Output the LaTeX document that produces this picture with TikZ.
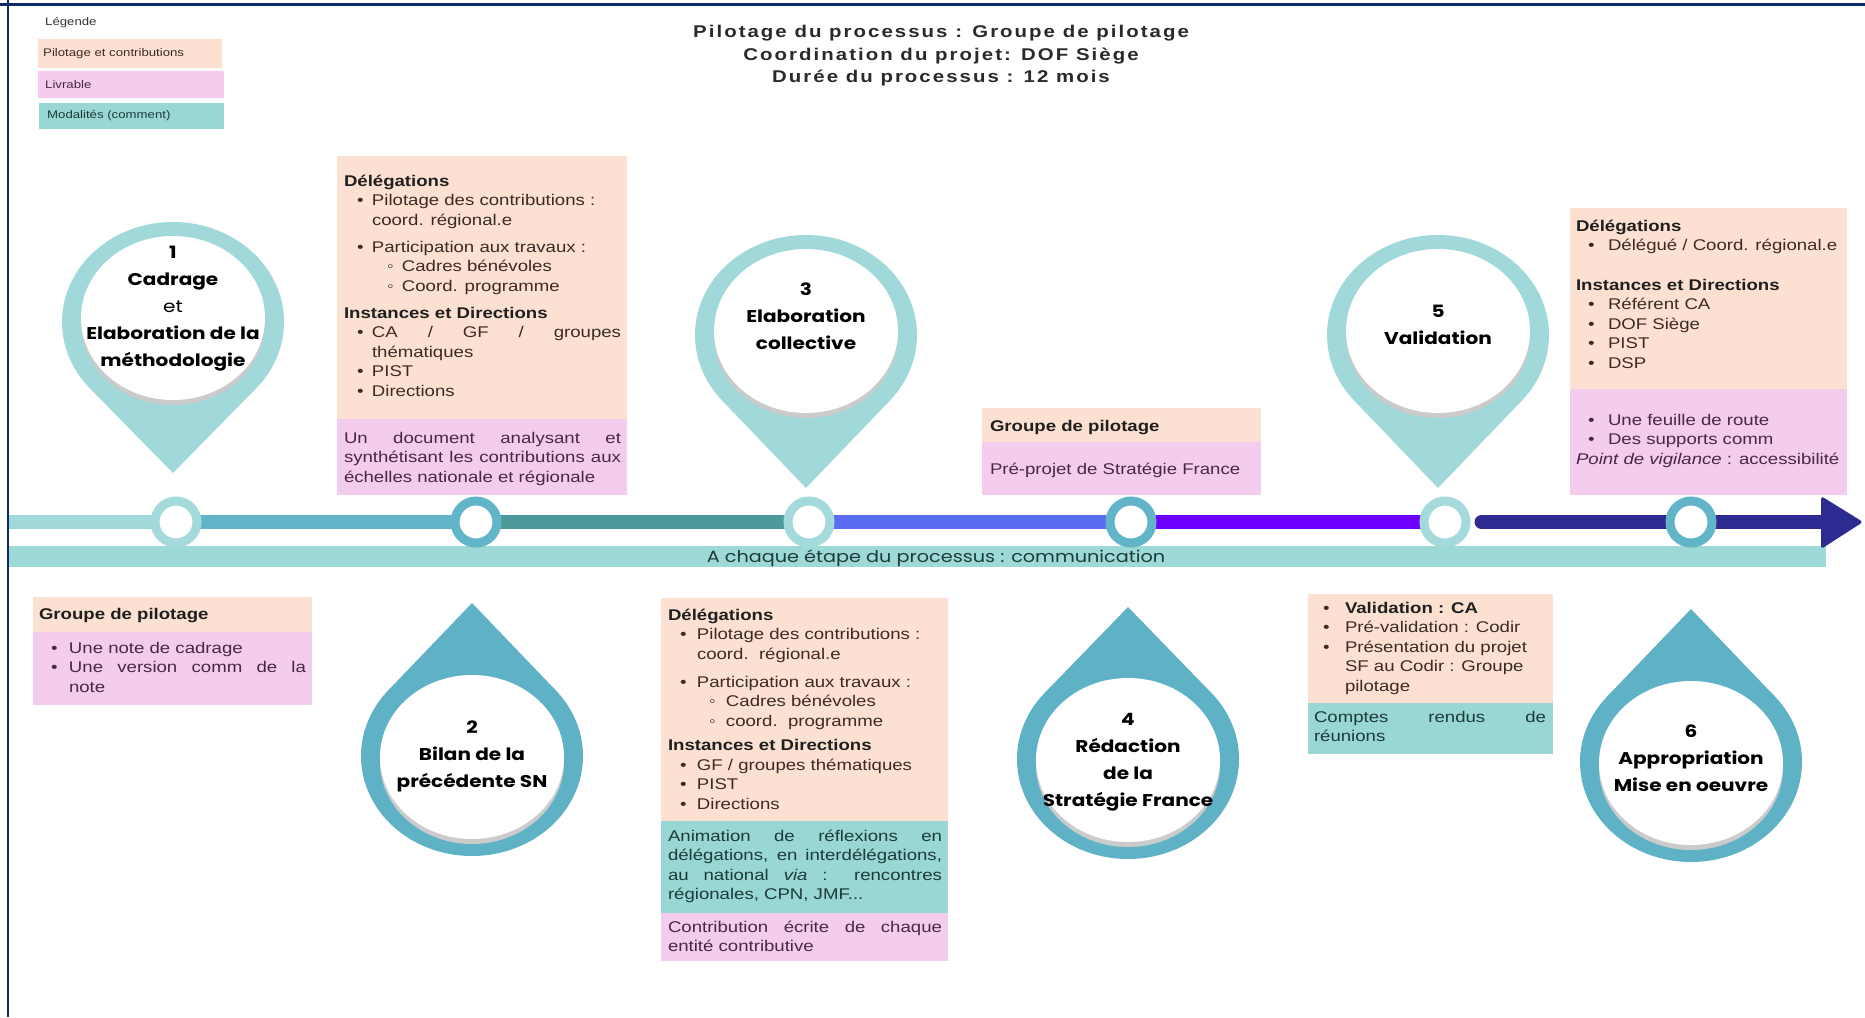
\documentclass[tikz,border=0pt]{standalone}
\usepackage{fontspec}
\setmainfont{Liberation Sans}
\newfontfamily\boxfont[FakeStretch=1.2]{Liberation Sans}
\newfontfamily\pinfont[FakeStretch=1.18]{Poppins}
\newfontfamily\titlefont[FakeStretch=1.2,LetterSpace=12]{Liberation Sans}
\usetikzlibrary{backgrounds}

\definecolor{peach}{HTML}{FCE1D3}
\definecolor{pinkl}{HTML}{F4CDEE}
\definecolor{teall}{HTML}{98D7D4}
\definecolor{commcol}{HTML}{9CD9D7}
\definecolor{pincol}{HTML}{A1D8DA}
\definecolor{dropcol}{HTML}{5FB2C6}
\definecolor{framecol}{HTML}{0B2868}
\definecolor{shadowgrey}{HTML}{CBCBCB}
\definecolor{segA}{HTML}{A1D9DA}
\definecolor{segB}{HTML}{63B3C8}
\definecolor{segC}{HTML}{4E9A9A}
\definecolor{segD}{HTML}{5A6CF2}
\definecolor{segE}{HTML}{6E00FF}
\definecolor{segF}{HTML}{2D2A92}
\definecolor{ringL}{HTML}{A4DADB}
\definecolor{ringM}{HTML}{62B4C8}
\definecolor{txtpeach}{HTML}{3A2B25}
\definecolor{txtpink}{HTML}{4A2746}
\definecolor{txtteal}{HTML}{1E3A3A}
\definecolor{titlecol}{HTML}{2A2A2A}

\newcommand\bitem[2]{\hspace*{#1pt}\makebox[\dimexpr#2pt-#1pt\relax][l]{•}}
\newcommand\bsub[2]{\hspace*{#1pt}\makebox[\dimexpr#2pt-#1pt\relax][l]{◦}}
\newcommand\bind[1]{\hspace*{#1pt}}
\newcommand\jline[2]{\makebox[#1pt][s]{#2}}
\newcommand\hd[1]{{\bfseries\color{black!88}#1}}

\newcommand\mypin[5]{%
  \pgfmathsetmacro\pinD{(#3-#2)/100}%
  \pgfmathsetmacro\pindy{100/\pinD}%
  \pgfmathsetmacro\pindx{111*sqrt(1-1/(\pinD*\pinD))}%
  \pgfmathsetmacro\pinw{#2+(#5)}%
  \pgfmathsetmacro\pins{#2+(#5)+5}%
  \fill[#4] (#1,#2) ellipse [x radius=111, y radius=100];
  \fill[#4] (#1,#3) -- (#1-\pindx,#2+\pindy) -- (#1+\pindx,#2+\pindy) -- cycle;
  \fill[shadowgrey] (#1,\pins) ellipse [x radius=92, y radius=82];
  \fill[white] (#1,\pinw) ellipse [x radius=92, y radius=82];
}

\begin{document}
\begin{tikzpicture}[x=1pt,y=-1pt,
  panel/.style={draw=none, fill=#1, anchor=north west, inner sep=0pt, outer sep=0pt},
  body/.style={anchor=north west, inner sep=0pt, outer sep=0pt, align=left, text=#1, font=\boxfont\fontsize{15.5}{19.5}\selectfont},
  legtxt/.style={anchor=west, inner sep=0pt, text=#1, font=\boxfont\fontsize{11}{13}\selectfont},
  pintxt/.style={align=center, inner sep=0pt, text=black, font=\pinfont\bfseries\fontsize{17}{27}\selectfont},
  ring/.style={circle, draw=#1, line width=9pt, fill=white, minimum size=42pt, inner sep=0pt},
  seg/.style={draw=#1, line width=14pt},
]
\useasboundingbox (0,0) rectangle (1865,1017);

% ---------- title ----------
\node[align=center, inner sep=0pt, text=titlecol, font=\titlefont\bfseries\fontsize{17}{22.6}\selectfont] (title) at (941,56)
  {Pilotage du processus : Groupe de pilotage\\Coordination du projet: DOF Siège\\Durée du processus : 12 mois};

% ---------- legend ----------
\node[legtxt=black!80] (legt) at (45,23) {Légende};
\node[panel=peach, minimum width=184pt, minimum height=29pt] (lg1) at (38,39) {};
\node[legtxt=txtpeach] (lg1t) at (43,53.5) {Pilotage et contributions};
\node[panel=pinkl, minimum width=186pt, minimum height=27pt] (lg2) at (38,71) {};
\node[legtxt=txtpink] (lg2t) at (45,84.5) {Livrable};
\node[panel=teall, minimum width=185pt, minimum height=26pt] (lg3) at (39,103) {};
\node[legtxt=txtteal] (lg3t) at (47,116) {Modalités (comment)};

% ---------- pins (top) and drops (bottom) ----------
\mypin{173}{322}{473}{pincol}{-4}
\mypin{806}{335}{488}{pincol}{-4}
\mypin{1438}{335}{488}{pincol}{-4}
\mypin{472}{756}{603}{dropcol}{1}
\mypin{1128}{759}{607}{dropcol}{1}
\mypin{1691}{762}{609}{dropcol}{1}

\node[pintxt] (t1) at (173,309) {1\\Cadrage\\{\mdseries et}\\Elaboration de la\\méthodologie};
\node[pintxt] (t3) at (806,316.5) {3\\Elaboration\\collective};
\node[pintxt] (t5) at (1438,324.5) {5\\Validation};
\node[pintxt] (t2) at (472,756.5) {2\\Bilan de la\\précédente SN};
\node[pintxt] (t4) at (1128,762) {4\\Rédaction\\de la\\Stratégie France};
\node[pintxt] (t6) at (1691,758.5) {6\\Appropriation\\Mise en oeuvre};

% ---------- box A ----------
\node[panel=peach, minimum width=290pt, minimum height=263pt] (aP) at (337,156) {};
\node[panel=pinkl, minimum width=290pt, minimum height=76pt] (aL) at (337,419) {};
\node[body=txtpeach] (aPt) at (344,172.35) {\strut\hd{Délégations}\\
\bitem{13}{28}Pilotage des contributions :\\
\bind{28}coord. régional.e\\[7.5pt]
\bitem{13}{28}Participation aux travaux :\\
\bsub{43}{58}Cadres bénévoles\\
\bsub{43}{58}Coord. programme\\[7.5pt]
\hd{Instances et Directions}\\
\bitem{13}{28}\jline{249}{CA / GF / groupes}\\
\bind{28}thématiques\\
\bitem{13}{28}PIST\\
\bitem{13}{28}Directions};
\node[body=txtpink] (aLt) at (344,429.35) {\strut\jline{277}{Un document analysant et}\\
\jline{277}{synthétisant les contributions aux}\\
échelles nationale et régionale};

% ---------- box B ----------
\node[panel=peach, minimum width=279pt, minimum height=34pt] (bP) at (982,408) {};
\node[panel=pinkl, minimum width=279pt, minimum height=53pt] (bL) at (982,442) {};
\node[body=txtpeach] (bPt) at (990,417.35) {\strut\hd{Groupe de pilotage}};
\node[body=txtpink] (bLt) at (990,460.35) {\strut Pré-projet de Stratégie France};

% ---------- box C ----------
\node[panel=peach, minimum width=277pt, minimum height=181pt] (cP) at (1570,208) {};
\node[panel=pinkl, minimum width=277pt, minimum height=106pt] (cL) at (1570,389) {};
\node[body=txtpeach] (cPt) at (1576,217.35) {\strut\hd{Délégations}\\
\bitem{12}{32}Délégué / Coord. régional.e\\[20pt]
\hd{Instances et Directions}\\
\bitem{12}{32}Référent CA\\
\bitem{12}{32}DOF Siège\\
\bitem{12}{32}PIST\\
\bitem{12}{32}DSP};
\node[body=txtpink] (cLt) at (1576,411.35) {\strut\bitem{12}{32}Une feuille de route\\
\bitem{12}{32}Des supports comm\\
\textit{Point de vigilance} : accessibilité};

% ---------- box D ----------
\node[panel=peach, minimum width=279pt, minimum height=35pt] (dP) at (33,597) {};
\node[panel=pinkl, minimum width=279pt, minimum height=73pt] (dL) at (33,632) {};
\node[body=txtpeach] (dPt) at (39,605.35) {\strut\hd{Groupe de pilotage}};
\node[body=txtpink] (dLt) at (39,639.35) {\strut\bitem{12}{30}Une note de cadrage\\
\bitem{12}{30}\jline{237}{Une version comm de la}\\
\bind{30}note};

% ---------- box E ----------
\node[panel=peach, minimum width=287pt, minimum height=223pt] (eP) at (661,598) {};
\node[panel=teall, minimum width=287pt, minimum height=92pt] (eM) at (661,821) {};
\node[panel=pinkl, minimum width=287pt, minimum height=48pt] (eL) at (661,913) {};
\node[body=txtpeach] (ePt) at (668,606.35) {\strut\hd{Délégations}\\
\bitem{12}{29}Pilotage des contributions :\\
\bind{29}coord.\ \ régional.e\\[8.5pt]
\bitem{12}{29}Participation aux travaux :\\
\bsub{41}{58}Cadres bénévoles\\
\bsub{41}{58}coord.\ \ programme\\[5pt]
\hd{Instances et Directions}\\
\bitem{12}{29}GF / groupes thématiques\\
\bitem{12}{29}PIST\\
\bitem{12}{29}Directions};
\node[body=txtteal] (eMt) at (668,827.35) {\strut\jline{274}{Animation de réflexions en}\\
\jline{274}{délégations, en interdélégations,}\\
\jline{274}{au national \textit{via} : rencontres}\\
régionales, CPN, JMF...};
\node[body=txtpink] (eLt) at (668,918.35) {\strut\jline{274}{Contribution écrite de chaque}\\
entité contributive};

% ---------- box F ----------
\node[panel=peach, minimum width=245pt, minimum height=109pt] (fP) at (1308,594) {};
\node[panel=teall, minimum width=245pt, minimum height=51pt] (fM) at (1308,703) {};
\node[body=txtpeach] (fPt) at (1314,599.35) {\strut\bitem{9}{31}\hd{Validation : CA}\\
\bitem{9}{31}Pré-validation : Codir\\
\bitem{9}{31}Présentation du projet\\
\bind{31}SF au Codir : Groupe\\
\bind{31}pilotage};
\node[body=txtteal] (fMt) at (1314,708.35) {\strut\jline{232}{Comptes rendus de}\\
réunions};

% ---------- communication bar ----------
\node[panel=commcol, minimum width=1817pt, minimum height=21pt] (comm) at (9,546) {};
\node[inner sep=0pt, text=txtteal, font=\pinfont\fontsize{16.3}{19}\selectfont] (commt) at (936,558.5) {A chaque étape du processus : communication};

% ---------- timeline ----------
\coordinate (tl0) at (9,522);
\coordinate (ahead) at (1823,522);
\node[ring=ringL] (r1) at (176,522) {};
\node[ring=ringM] (r2) at (476,522) {};
\node[ring=ringL] (r3) at (809,522) {};
\node[ring=ringM] (r4) at (1131,522) {};
\node[ring=ringL] (r5) at (1445,522) {};
\node[ring=ringM] (r6) at (1691,522) {};
\fill[segF, rounded corners=3pt] (1821,496) -- (1863,522) -- (1821,549) -- cycle;

\begin{pgfonlayer}{background}
\fill[white] (0,0) rectangle (1865,1017);
\draw[seg=segA] (tl0) -- (r1.center);
\draw[seg=segB] (r1.center) -- (r2.center);
\draw[seg=segC] (r2.center) -- (r3.center);
\draw[seg=segD] (r3.center) -- (r4.center);
\draw[seg=segE] (r4.center) -- (r5.center);
\draw[seg=segF, line cap=round] ([xshift=11pt]r5.east) -- (ahead);
\end{pgfonlayer}

% ---------- frame ----------
\draw[framecol, line width=3pt] (0,4) -- (1865,4);
\draw[framecol, line width=2.5pt] (8,0) -- (8,1017);
\end{tikzpicture}
\end{document}
